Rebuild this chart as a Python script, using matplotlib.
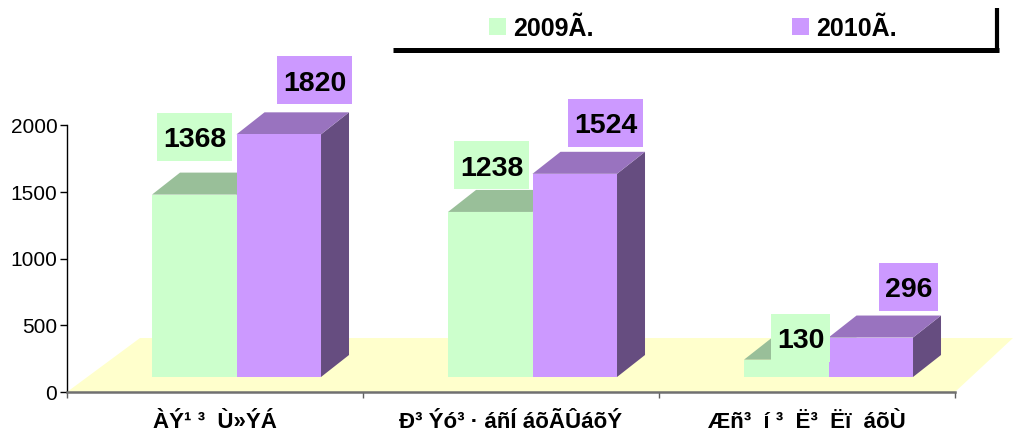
import matplotlib
matplotlib.use('Agg')
import matplotlib.pyplot as plt
from matplotlib.patches import Polygon, Rectangle
from matplotlib.lines import Line2D

# ---------------- data ----------------
categories = ["ÀÝ¹ ³  Ù»ÝÁ", "Ð³ Ýó³ · áñÍ áõÃÛáõÝ", "Æñ³  í ³  Ë³  Ëï  áõÙ"]
series_names = ["2009Ã.", "2010Ã."]
values_2009 = [1368, 1238, 130]
values_2010 = [1820, 1524, 296]
yticks = [0, 500, 1000, 1500, 2000]

# ---------------- style / layout ----------------
FONT = 'Liberation Sans'
W, H = 1014, 434
front_colors = ['#CCFFCC', '#CC99FF']
top_colors = ['#99BF99', '#9973BF']
side_colors = ['#668066', '#664D80']
floor_color = '#FFFFCC'
# value label offsets (pixels, from bar front-top centre)
offsets_2009 = [(0.5, 57.5), (1.5, 46.5), (14.5, 21.5)]
offsets_2010 = [(36, 54), (31, 51), (38, 51)]

fig = plt.figure(figsize=(W / 100, H / 100), dpi=100)
ax = fig.add_axes([67 / W, 42 / H, 888 / W, 392 / H])
ax.set_xlim(-0.5, 2.5)
ax.set_ylim(0, 2940)
ax.patch.set_alpha(0)

px_x = 3 / 888          # data units per pixel (x)
px_y = 2940 / 392       # data units per pixel (y)
DX, DY = 28 * px_x, 22 * px_y
BASE = 15 * px_y
BAR_W = 84.5 * px_x
BAR_OFF = -0.2128

# floor
floor = Polygon([(-0.5, 0), (2.5, 0), (2.5 + 58 * px_x, 54 * px_y), (-0.5 + 73 * px_x, 54 * px_y)],
                closed=True, facecolor=floor_color, edgecolor='none', zorder=1, clip_on=False)
ax.add_patch(floor)

series_values = [values_2009, values_2010]
z = 2
for i in range(len(categories)):
    for s, vals in enumerate(series_values):
        v = vals[i]
        x0 = i + BAR_OFF + s * BAR_W
        top = BASE + v
        front = Rectangle((x0, BASE), BAR_W, v, facecolor=front_colors[s], edgecolor='none', zorder=z)
        topf = Polygon([(x0, top), (x0 + BAR_W, top), (x0 + BAR_W + DX, top + DY), (x0 + DX, top + DY)],
                       closed=True, facecolor=top_colors[s], edgecolor='none', zorder=z)
        side = Polygon([(x0 + BAR_W, BASE), (x0 + BAR_W + DX, BASE + DY), (x0 + BAR_W + DX, top + DY),
                        (x0 + BAR_W, top)], closed=True, facecolor=side_colors[s], edgecolor='none', zorder=z)
        for p in (side, topf, front):
            p.set_clip_on(False)
            ax.add_patch(p)
        z += 1

# axes styling
for sp in ('top', 'right'):
    ax.spines[sp].set_visible(False)
ax.spines['left'].set_bounds(0, 2000)
ax.spines['left'].set_color('black')
ax.spines['left'].set_linewidth(1)
ax.spines['left'].set_zorder(20)
ax.spines['bottom'].set_color('#707070')
ax.spines['bottom'].set_linewidth(1.8)
ax.spines['bottom'].set_zorder(20)
ax.set_yticks(yticks)
ax.set_yticklabels([str(t) for t in yticks], fontfamily=FONT, fontsize=15)
ax.tick_params(axis='y', direction='out', length=5, width=1, pad=2, colors='black')
ax.set_xticks([-0.5, 0.5, 1.5, 2.5])
ax.set_xticklabels([])
ax.tick_params(axis='x', direction='out', length=4.5, width=1, color='#606060')

for i, c in enumerate(categories):
    ax.annotate(c, xy=(i, 0), xytext=(0, -36), textcoords='offset pixels', ha='center', va='baseline',
                fontfamily=FONT, fontweight='bold', fontsize=16, annotation_clip=False)

# value labels
label_fs = 20.5
cap = 0.716 * label_fs * 100 / 72
texts = []
for s, (vals, offs) in enumerate(zip(series_values, [offsets_2009, offsets_2010])):
    for i, v in enumerate(vals):
        xc = i + BAR_OFF + s * BAR_W + BAR_W / 2
        dx, dy = offs[i]
        t = ax.annotate(str(v), xy=(xc, BASE + v), xytext=(dx, dy - cap / 2), textcoords='offset pixels',
                        ha='center', va='baseline', fontfamily=FONT, fontweight='bold', fontsize=label_fs,
                        zorder=31, annotation_clip=False)
        texts.append((t, xc, BASE + v, dx, dy, front_colors[s]))

fig.canvas.draw()
r = fig.canvas.get_renderer()
inv = ax.transData.inverted()
for t, xc, yv, dx, dy, fc in texts:
    bb = t.get_window_extent(r)
    cx, cy = ax.transData.transform((xc, yv))
    cx += dx
    cy += dy
    w = bb.width + 12
    h = 48
    (x0, y0) = inv.transform((cx - w / 2, cy - h / 2))
    (x1, y1) = inv.transform((cx + w / 2, cy + h / 2))
    ax.add_patch(Rectangle((x0, y0), x1 - x0, y1 - y0, facecolor=fc, edgecolor='none', zorder=30, clip_on=False))

# legend (figure pixel coordinates, y from top)
def fx(px):
    return px / W

def fy(py):
    return 1 - py / H

leg_square_x = [489, 792]
leg_text_x = [513, 816]
for s, name in enumerate(series_names):
    fig.patches.append(Rectangle((fx(leg_square_x[s]), fy(35)), 17 / W, 17 / H, facecolor=front_colors[s],
                                 edgecolor='none', transform=fig.transFigure, figure=fig))
    fig.text(fx(leg_text_x[s]), fy(36), name, ha='left', va='baseline', fontfamily=FONT,
             fontweight='bold', fontsize=18)
fig.add_artist(Line2D([fx(393), fx(999)], [fy(49.5), fy(49.5)], color='black', lw=3.6,
                      solid_capstyle='butt', transform=fig.transFigure))
fig.add_artist(Line2D([fx(997), fx(997)], [fy(8), fy(52)], color='black', lw=3.0,
                      solid_capstyle='butt', transform=fig.transFigure))

fig.savefig('out.png', dpi=100)
